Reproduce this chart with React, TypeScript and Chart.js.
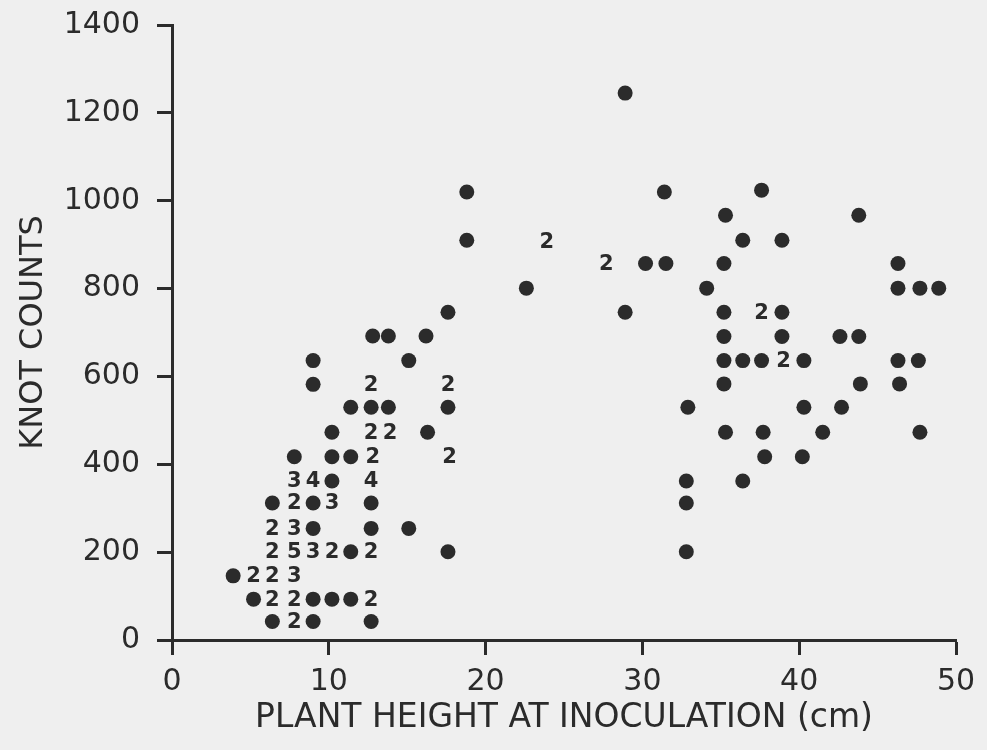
import React, { useEffect, useRef } from "react";
import { Chart, registerables } from "chart.js";

Chart.register(...registerables);

// Plant height at inoculation (cm)
const plantHeight = [
  6.4, 7.8, 9.0, 12.7,
  5.2, 6.4, 7.8, 9.0, 10.2, 11.4, 12.7,
  3.9, 5.2, 6.4, 7.8,
  6.4, 7.8, 9.0, 10.2, 11.4, 12.7, 17.6, 32.8,
  6.4, 7.8, 9.0, 12.7, 15.1,
  6.4, 7.8, 9.0, 10.2, 12.7, 32.8,
  7.8, 9.0, 10.2, 12.7, 32.8, 36.4,
  7.8, 10.2, 11.4, 12.8, 17.7, 37.8, 40.2,
  10.2, 12.7, 13.9, 16.3, 35.3, 37.7, 41.5, 47.7,
  11.4, 12.7, 13.8, 17.6, 32.9, 40.3, 42.7,
  9.0, 12.7, 17.6, 35.2, 43.9, 46.4,
  9.0, 15.1, 35.2, 36.4, 37.6, 39.0, 40.3, 46.3, 47.6,
  12.8, 13.8, 16.2, 35.2, 38.9, 42.6, 43.8,
  17.6, 28.9, 35.2, 37.6, 38.9,
  22.6, 34.1, 46.3, 47.7, 48.9,
  27.7, 30.2, 31.5, 35.2, 46.3,
  18.8, 23.9, 36.4, 38.9,
  35.3, 43.8,
  18.8, 31.4, 37.6,
  28.9,
];

// Knot counts
const knotCount = [
  42, 42, 42, 42,
  93, 93, 93, 93, 93, 93, 93,
  146, 146, 146, 146,
  201, 201, 201, 201, 201, 201, 201, 201,
  254, 254, 254, 254, 254,
  312, 312, 312, 312, 312, 312,
  362, 362, 362, 362, 362, 362,
  417, 417, 417, 417, 417, 417, 417,
  473, 473, 473, 473, 473, 473, 473, 473,
  530, 530, 530, 530, 530, 530, 530,
  582, 582, 582, 583, 583, 583,
  636, 636, 636, 636, 636, 636, 636, 636, 636,
  692, 692, 692, 691, 691, 691, 691,
  746, 746, 746, 746, 746,
  801, 801, 801, 801, 801,
  857, 857, 857, 857, 857,
  910, 906, 910, 910,
  967, 967,
  1020, 1020, 1024,
  1245,
];

// Number of coincident observations at each plotted position
const overlapCount = [
  1, 2, 1, 1,
  1, 2, 2, 1, 1, 1, 2,
  1, 2, 2, 3,
  2, 5, 3, 2, 1, 2, 1, 1,
  2, 3, 1, 1, 1,
  1, 2, 1, 3, 1, 1,
  3, 4, 1, 4, 1, 1,
  1, 1, 1, 2, 2, 1, 1,
  1, 2, 2, 1, 1, 1, 1, 1,
  1, 1, 1, 1, 1, 1, 1,
  1, 2, 2, 1, 1, 1,
  1, 1, 1, 1, 1, 2, 1, 1, 1,
  1, 1, 1, 1, 1, 1, 1,
  1, 1, 1, 2, 1,
  1, 1, 1, 1, 1,
  2, 1, 1, 1, 1,
  1, 2, 1, 1,
  1, 1,
  1, 1, 1,
  1,
];

const xTicks = [0, 10, 20, 30, 40, 50];
const yTicks = [0, 200, 400, 600, 800, 1000, 1200, 1400];

const xTitle = "PLANT HEIGHT AT INOCULATION (cm)";
const yTitle = "KNOT COUNTS";

const INK = "#2b2b2b";
const PAPER = "#efefef";
const FONT = "'DejaVu Sans', sans-serif";

export default function App() {
  const ref = useRef<HTMLCanvasElement>(null);

  useEffect(() => {
    document.body.style.margin = "0";
    document.body.style.background = PAPER;
    const canvas = ref.current;
    if (!canvas) return;

    const labelPlugin = {
      id: "overlapLabels",
      afterDatasetsDraw(chart: any) {
        const meta = chart.getDatasetMeta(0);
        const ctx = chart.ctx;
        ctx.save();
        ctx.font = `bold 21px ${FONT}`;
        ctx.fillStyle = INK;
        ctx.textAlign = "center";
        ctx.textBaseline = "middle";
        meta.data.forEach((el: any, i: number) => {
          if (overlapCount[i] > 1) ctx.fillText(String(overlapCount[i]), el.x, el.y + 1);
        });
        ctx.restore();
      },
    };

    const points = plantHeight.map((x, i) => ({ x, y: knotCount[i] }));

    const chart = new Chart(canvas, {
      type: "scatter",
      data: {
        datasets: [
          {
            data: points,
            backgroundColor: INK,
            borderColor: INK,
            borderWidth: 0,
            pointRadius: overlapCount.map((n) => (n > 1 ? 0 : 7.5)),
            pointHoverRadius: overlapCount.map((n) => (n > 1 ? 0 : 7.5)),
          },
        ],
      },
      options: {
        animation: false,
        responsive: false,
        devicePixelRatio: 1,
        events: [],
        layout: { padding: { top: 25, right: 31, left: 0, bottom: 0 } },
        plugins: {
          legend: { display: false },
          tooltip: { enabled: false },
        },
        scales: {
          x: {
            type: "linear",
            min: 0,
            max: 50,
            afterBuildTicks: (s: any) => {
              s.ticks = xTicks.map((v) => ({ value: v }));
            },
            afterFit: (s: any) => {
              s.height = 110;
              s.paddingLeft = 0;
              s.paddingRight = 0;
            },
            grid: {
              drawOnChartArea: false,
              drawTicks: true,
              tickLength: 15,
              tickWidth: 3,
              tickColor: INK,
            },
            border: { display: true, color: INK, width: 3 },
            ticks: {
              color: INK,
              font: { family: FONT, size: 30 },
              padding: 9,
              maxRotation: 0,
              callback: (v: any) => String(v),
            },
            title: {
              display: true,
              text: xTitle,
              color: INK,
              font: { family: FONT, size: 33 },
              padding: { top: 0, bottom: 12 },
            },
          },
          y: {
            type: "linear",
            min: 0,
            max: 1400,
            afterBuildTicks: (s: any) => {
              s.ticks = yTicks.map((v) => ({ value: v }));
            },
            afterFit: (s: any) => {
              s.width = 172;
              s.paddingTop = 0;
              s.paddingBottom = 0;
            },
            grid: {
              drawOnChartArea: false,
              drawTicks: true,
              tickLength: 15,
              tickWidth: 3,
              tickColor: INK,
            },
            border: { display: true, color: INK, width: 3 },
            ticks: {
              color: INK,
              font: { family: FONT, size: 30 },
              padding: 17,
              callback: (v: any) => String(v),
            },
            title: {
              display: true,
              text: yTitle,
              color: INK,
              font: { family: FONT, size: 32 },
              padding: { top: 14, bottom: 0 },
            },
          },
        },
      },
      plugins: [labelPlugin],
    });

    return () => chart.destroy();
  }, []);

  return (
    <div style={{ width: 987, height: 750, background: PAPER }}>
      <canvas ref={ref} width={987} height={750} style={{ display: "block", background: PAPER }} />
    </div>
  );
}
